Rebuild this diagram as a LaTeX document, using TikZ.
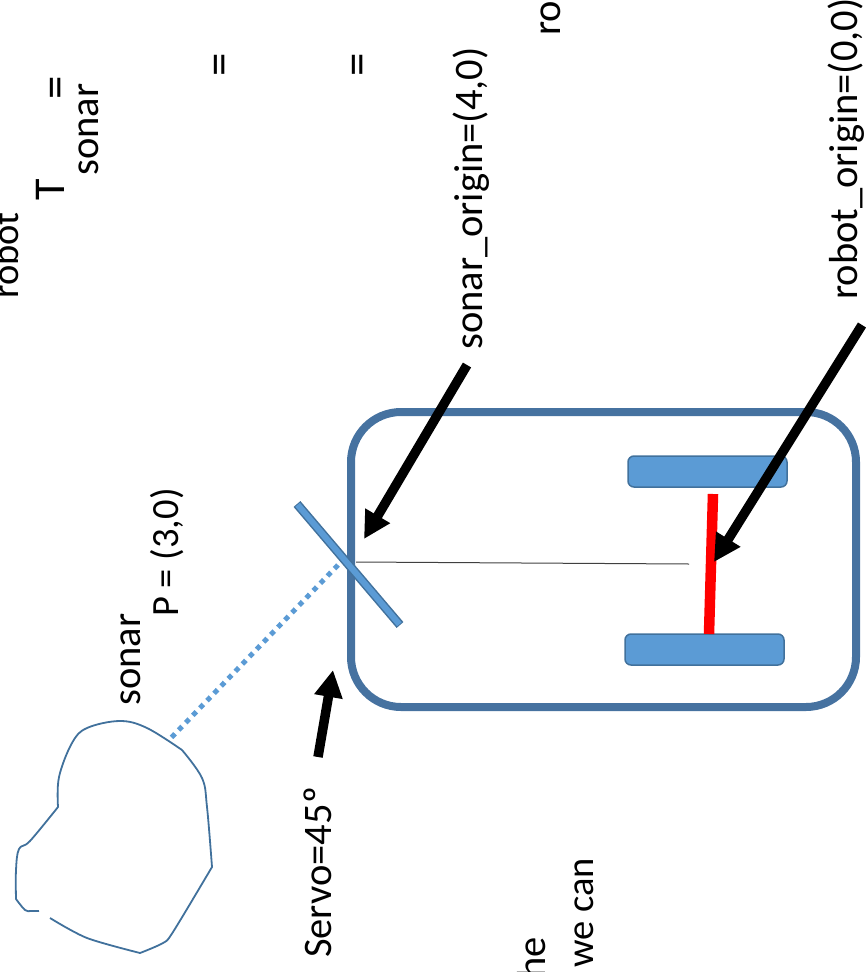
\documentclass[tikz,border=0pt]{standalone}
\usepackage{fontspec}
\setmainfont{Carlito}
\usetikzlibrary{arrows.meta}
\definecolor{bodyblue}{HTML}{4672A0}
\definecolor{partblue}{HTML}{5B9BD5}
\definecolor{edgeblue}{HTML}{41719C}
\tikzset{
  x=1pt, y=-1pt,
  label text/.style={rotate=90, anchor=base west, inner sep=0pt, font=\fontsize{40.5}{40.5}\selectfont},
  small label/.style={rotate=90, anchor=base west, inner sep=0pt, font=\fontsize{38.5}{38.5}\selectfont},
  big text/.style={rotate=90, anchor=base west, inner sep=0pt, font=\fontsize{47}{47}\selectfont},
  symbol text/.style={rotate=90, anchor=base west, inner sep=0pt, font=\fontsize{44}{44}\selectfont},
  wheel/.style={draw=edgeblue, line width=1.5pt, fill=partblue, rounded corners=6pt, outer sep=0pt, inner sep=0pt, anchor=north west, minimum width=159pt, minimum height=31pt},
  pointer/.style={line width=9.5pt, black, -{Triangle[length=27pt,width=27pt]}},
}
\begin{document}
\begin{tikzpicture}
\useasboundingbox (0,0) rectangle (866,972);
\begin{scope}
\clip (0,0) rectangle (866,972);

% robot body, wheels and axle
\node[draw=bodyblue, line width=8pt, rounded corners=50pt, minimum width=505pt, minimum height=295pt, inner sep=0pt, outer sep=0pt, anchor=north west] (chassis) at (351,412) {};
\node[wheel] (wheelA) at (628,456) {};
\node[wheel] (wheelB) at (625,634) {};
\coordinate (axleTop) at (713,494);
\coordinate (axleBottom) at (709,634);
\draw[red, line width=10.5pt] (axleTop) -- (axleBottom);

% centre line from sonar to axle
\coordinate (lineA) at (356,562);
\coordinate (lineB) at (689,564);
\draw[black!75, line width=1pt] (lineA) -- (lineB);

% sonar plate on its servo
\coordinate (plateA) at (297,504);
\coordinate (plateB) at (400,625);
\draw[edgeblue, line width=9pt] (plateA) -- (plateB);
\draw[partblue, line width=6pt, shorten >=1pt, shorten <=1pt] (plateA) -- (plateB);

% sonar beam
\coordinate (beamA) at (338,565);
\coordinate (beamB) at (168,741);
\draw[partblue, line width=5pt, dash pattern=on 5pt off 5.2pt] (beamA) -- (beamB);

% obstacle outline
\draw[edgeblue, line width=1.8pt, line join=round]
  plot[smooth, tension=0.6] coordinates {(39,911) (31,911) (25,910) (16,899)}
  -- plot[smooth, tension=0.6] coordinates {(16,899) (16,870) (19,849) (30,841) (58,807)}
  -- plot[smooth, tension=0.6] coordinates {(58,807) (59,777) (72,743) (87,728) (120,721) (147,728) (182,750)}
  -- plot[smooth, tension=0.6] coordinates {(182,750) (202,778) (207,807) (212,867)}
  -- plot[smooth, tension=0.5] coordinates {(212,867) (173,932) (163,943) (140,953)}
  -- plot[smooth, tension=0.5] coordinates {(140,953) (87,938) (50,918)};

% labels
\node[small label] (robotWord) at (19,299) {robot};
\node[symbol text] (bigT) at (64,201) {T};
\node[label text] (sonarSub) at (98,176) {sonar};
\node[big text] (eqA) at (70,100) {=};
\node[big text] (eqB) at (234,77) {=};
\node[big text] (eqC) at (372,77) {=};
\node[label text] (roWord) at (560,36) {ro};
\node[label text] (heWord) at (545,979) {he};
\node[small label] (weCan) at (593,968) {we can};
\node[label text] (sonarWord) at (140,706) {sonar};
\node[small label] (pointP) at (178,617) {P = (3,0)};
\node[label text] (servoText) at (331,958) {Servo=45º};
\node[label text] (sonarOrigin) at (482,350) {sonar\_origin=(4,0)};
\node[label text] (robotOrigin) at (857,300) {robot\_origin=(0,0)};

% pointers
\coordinate (tipSonar) at (364,539);
\coordinate (tailSonar) at (467,365);
\coordinate (tipRobot) at (714,562);
\coordinate (tailRobot) at (862,325);
\coordinate (tipServo) at (333,670);
\coordinate (tailServo) at (318,757);
\draw[pointer] (tailSonar) -- (tipSonar);
\draw[pointer] (tailRobot) -- (tipRobot);
\draw[pointer] (tailServo) -- (tipServo);
\end{scope}
\end{tikzpicture}
\end{document}
